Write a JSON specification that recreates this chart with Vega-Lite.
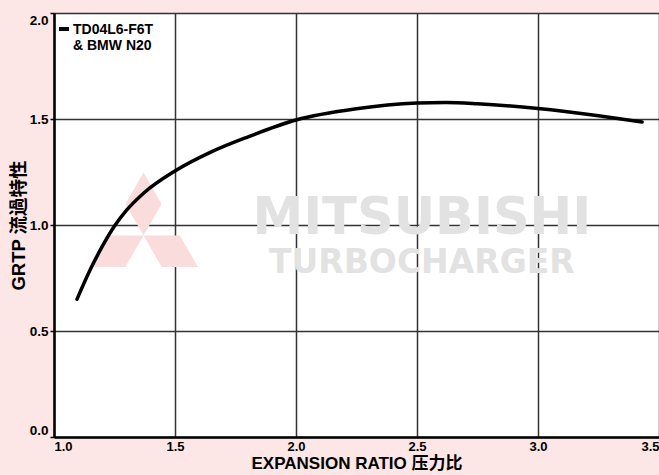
{
  "$schema": "https://vega.github.io/schema/vega-lite/v6.json",
  "width": 605,
  "height": 424,
  "autosize": {"type": "none"},
  "padding": {"left": 54, "top": 13, "right": 0, "bottom": 38},
  "background": "#fde6e6",
  "view": {"fill": "white", "stroke": null},
  "config": {
    "font": "Liberation Sans",
    "axis": {
      "zindex": 1,
      "grid": true,
      "gridColor": "#333333",
      "gridWidth": 1.5,
      "domainColor": "black",
      "domainWidth": 2.5,
      "labelFont": "Liberation Sans",
      "labelFontSize": 13.5,
      "labelFontWeight": "bold",
      "labelColor": "black",
      "titleFont": "Liberation Sans, Noto Sans CJK SC",
      "titleFontSize": 18.5,
      "titleFontWeight": "bold",
      "titleColor": "black"
    }
  },
  "layer": [
    {
      "data": {"values": [{}]},
      "mark": {
        "type": "point",
        "shape": "M0,0L0.286,-0.5L0,-1L-0.286,-0.5Z M0,0L0.576,0L0.866,0.5L0.29,0.5Z M0,0L-0.576,0L-0.866,0.5L-0.29,0.5Z",
        "filled": true,
        "color": "#fadcdc",
        "opacity": 1,
        "size": 15876
      },
      "encoding": {
        "x": {"datum": 1.37, "type": "quantitative"},
        "y": {"datum": 0.95, "type": "quantitative"}
      }
    },
    {
      "data": {"values": [{}]},
      "mark": {
        "type": "text",
        "text": "MITSUBISHI",
        "font": "DejaVu Sans",
        "fontWeight": "bold",
        "fontSize": 51,
        "color": "#e2e2e2",
        "align": "center",
        "baseline": "middle"
      },
      "encoding": {
        "x": {"datum": 2.52, "type": "quantitative"},
        "y": {"datum": 1.03, "type": "quantitative"}
      }
    },
    {
      "data": {"values": [{}]},
      "mark": {
        "type": "text",
        "text": "TURBOCHARGER",
        "font": "DejaVu Sans",
        "fontWeight": "bold",
        "fontSize": 33,
        "color": "#e2e2e2",
        "align": "center",
        "baseline": "middle"
      },
      "encoding": {
        "x": {"datum": 2.52, "type": "quantitative"},
        "y": {"datum": 0.82, "type": "quantitative"}
      }
    },
    {
      "data": {
        "values": [
          {"series": "TD04L6-F6T & BMW N20", "ratio": 1.095, "grtp": 0.65},
          {"series": "TD04L6-F6T & BMW N20", "ratio": 1.15, "grtp": 0.79},
          {"series": "TD04L6-F6T & BMW N20", "ratio": 1.2, "grtp": 0.9},
          {"series": "TD04L6-F6T & BMW N20", "ratio": 1.25, "grtp": 0.995},
          {"series": "TD04L6-F6T & BMW N20", "ratio": 1.3, "grtp": 1.07},
          {"series": "TD04L6-F6T & BMW N20", "ratio": 1.37, "grtp": 1.15},
          {"series": "TD04L6-F6T & BMW N20", "ratio": 1.5, "grtp": 1.255},
          {"series": "TD04L6-F6T & BMW N20", "ratio": 1.65, "grtp": 1.345},
          {"series": "TD04L6-F6T & BMW N20", "ratio": 1.8, "grtp": 1.415},
          {"series": "TD04L6-F6T & BMW N20", "ratio": 2.0, "grtp": 1.495},
          {"series": "TD04L6-F6T & BMW N20", "ratio": 2.25, "grtp": 1.548},
          {"series": "TD04L6-F6T & BMW N20", "ratio": 2.5, "grtp": 1.575},
          {"series": "TD04L6-F6T & BMW N20", "ratio": 2.62, "grtp": 1.578},
          {"series": "TD04L6-F6T & BMW N20", "ratio": 2.75, "grtp": 1.572},
          {"series": "TD04L6-F6T & BMW N20", "ratio": 3.0, "grtp": 1.549},
          {"series": "TD04L6-F6T & BMW N20", "ratio": 3.25, "grtp": 1.515},
          {"series": "TD04L6-F6T & BMW N20", "ratio": 3.43, "grtp": 1.486}
        ]
      },
      "mark": {"type": "line", "interpolate": "monotone", "strokeWidth": 3.5, "strokeCap": "round"},
      "encoding": {
        "x": {
          "field": "ratio",
          "type": "quantitative",
          "scale": {"domain": [1, 3.5], "nice": false, "zero": false},
          "axis": {
            "values": [1, 1.5, 2, 2.5, 3, 3.5],
            "format": ".1f",
            "ticks": false,
            "labelPadding": 3,
            "labelFontSize": 13,
            "title": "EXPANSION RATIO 压力比",
            "titleFontSize": 17,
            "titlePadding": 2
          }
        },
        "y": {
          "field": "grtp",
          "type": "quantitative",
          "scale": {"domain": [0, 2], "nice": false},
          "axis": {
            "values": [0, 0.5, 1, 1.5, 2],
            "format": ".1f",
            "ticks": true,
            "tickSize": 4,
            "tickWidth": 1.5,
            "tickColor": "black",
            "labelPadding": 2,
            "labelFlush": true,
            "title": "GRTP 流過特性",
            "titlePadding": 1
          }
        },
        "color": {
          "field": "series",
          "type": "nominal",
          "scale": {"range": ["black"]},
          "legend": {
            "orient": "none",
            "legendX": 3,
            "legendY": 14,
            "title": null,
            "padding": 0,
            "symbolType": "M-1,-1L1,-1",
            "symbolFillColor": "transparent",
            "symbolStrokeWidth": 4,
            "symbolSize": 100,
            "symbolStrokeColor": "black",
            "labelFont": "Liberation Sans",
            "labelFontSize": 14,
            "labelFontWeight": "bold",
            "labelColor": "black",
            "labelOffset": 2,
            "labelBaseline": "alphabetic",
            "labelExpr": "['TD04L6-F6T', '& BMW N20']"
          }
        }
      }
    }
  ]
}
